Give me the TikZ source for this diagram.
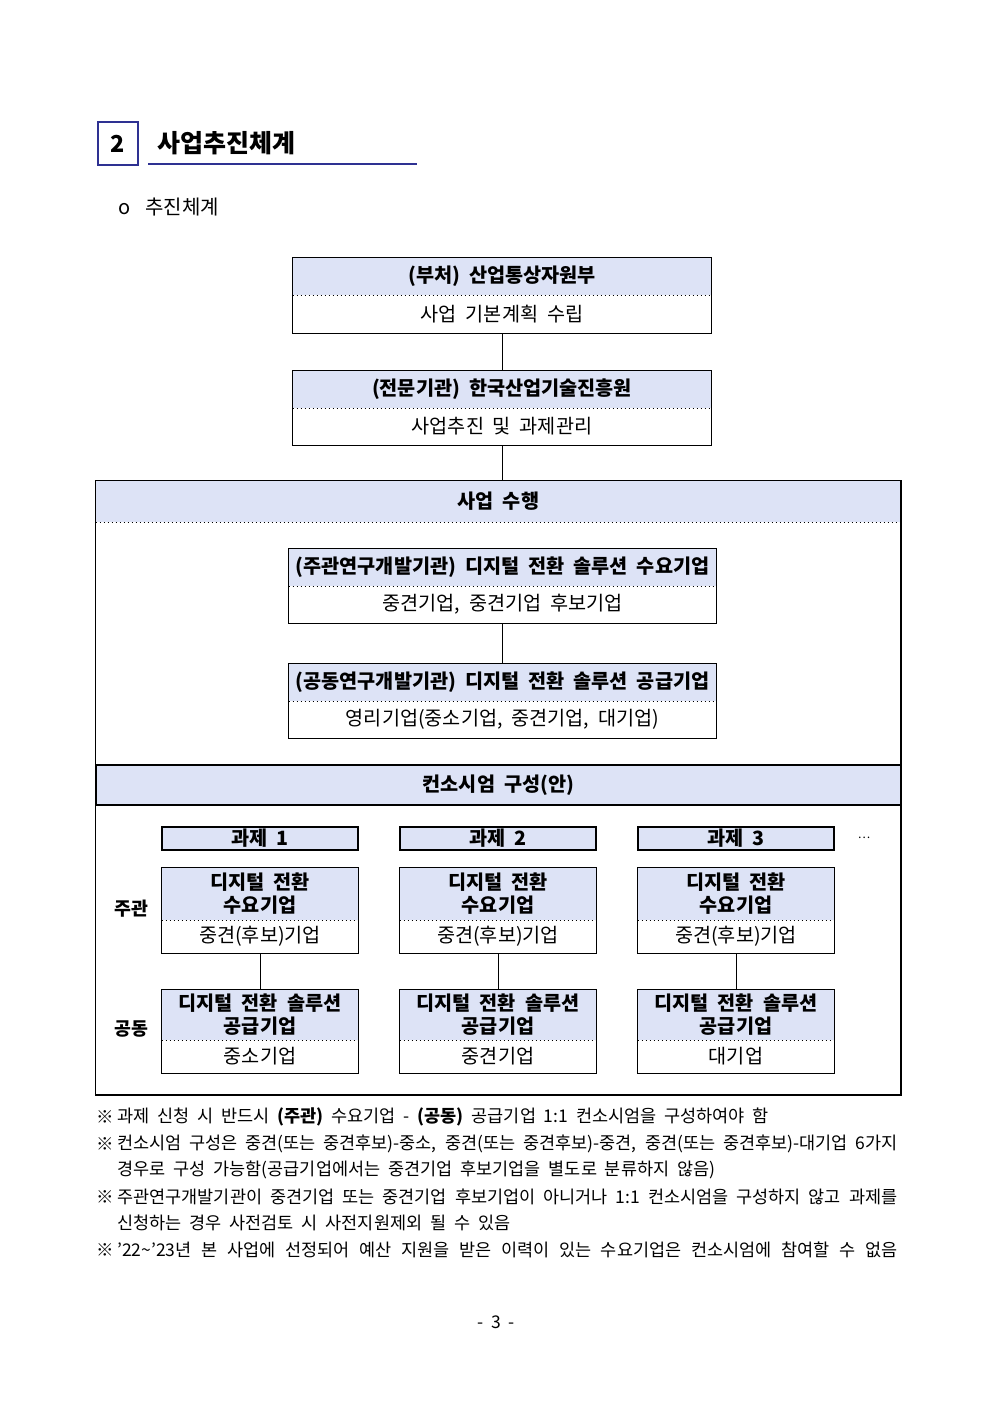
\documentclass[tikz,border=0pt]{standalone}
\usepackage{fontspec}
\setmainfont{Noto Sans CJK KR}[WordSpace=2]
\newfontfamily\tightfamily{Noto Sans CJK KR}[WordSpace=1]
\usetikzlibrary{positioning}
\definecolor{hdrblue}{RGB}{221,227,246}
\definecolor{titlenavy}{RGB}{46,49,146}
\newcommand{\boxfont}{\fontsize{11.8}{13.8}\selectfont}
\newcommand{\notefont}{\fontsize{10.5}{16}\selectfont}

\begin{document}
\begin{tikzpicture}
  [x=0.6pt,y=-0.6pt,every node/.style={inner sep=0pt,font=\boxfont}]
 \tikzset{hdr/.style = {fill=hdrblue,font=\bfseries\boxfont,align=center},
   bdy/.style = {align=center},
   box/.style = {draw,line width=0.8pt},
   sep/.style = {dotted,line width=0.4pt},
   edge/.style = {line width=0.6pt},
   note/.style = {anchor=west,font=\notefont}}
  \useasboundingbox (0,0) rectangle (992,1403);

  % title
  \node[draw=titlenavy,line width=0.9pt,minimum width=24pt,minimum height=25.8pt,
    font=\bfseries\fontsize{14}{16}\selectfont] (num) at (118,143.5) {2};
  \node[anchor=west,font=\bfseries\fontsize{15}{17}\selectfont] (title) at (157,143) {사업추진체계};
  \coordinate (ulstart) at (148,164);
  \coordinate (ulend) at (417,164);
  \draw[titlenavy,line width=0.9pt] (ulstart) -- (ulend);
  \node[anchor=west,font=\fontsize{12}{14}\selectfont] (bul) at (118,207) {o\hspace{0.75em}추진체계};

  % top boxes
  \node[hdr,minimum width=250.8pt,minimum height=22.2pt] (moti) at (502,276.5) {(부처) 산업통상자원부};
  \node[bdy,minimum width=250.8pt,minimum height=22.8pt] (motiB) at (502,314) {사업 기본계획 수립};
  \node[hdr,minimum width=250.8pt,minimum height=22.2pt] (keit) at (502,389.5) {(전문기관) 한국산업기술진흥원};
  \node[bdy,minimum width=250.8pt,minimum height=22.2pt] (keitB) at (502,426.5) {사업추진 및 과제관리};

  % outer frame
  \node[hdr,minimum width=483pt,minimum height=24.6pt] (exec) at (498.5,501.5) {사업 수행};
  \coordinate (framebot) at (901,1095);
  \node[hdr,minimum width=256.2pt,minimum height=22.2pt] (lead) at (502.5,567.5) {(주관연구개발기관) 디지털 전환 솔루션 수요기업};
  \node[bdy,minimum width=256.2pt,minimum height=22.2pt] (leadB) at (502.5,604.5) {중견기업, 중견기업 후보기업};
  \node[hdr,minimum width=256.2pt,minimum height=22.2pt] (joint) at (502.5,682.5) {(공동연구개발기관) 디지털 전환 솔루션 공급기업};
  \node[bdy,minimum width=256.2pt,minimum height=22.2pt] (jointB) at (502.5,719.5) {영리기업(중소기업, 중견기업, 대기업)};
  \node[hdr,draw,line width=0.8pt,minimum width=483pt,minimum height=24pt] (cons) at (498.5,785) {컨소시엄 구성(안)};

  \foreach \top/\bot in {moti/motiB,keit/keitB,lead/leadB,joint/jointB}
  {
    \draw[box] (\top.north west) rectangle (\bot.south east);
    \draw[sep] (\top.south west) -- (\top.south east);
  }
  \draw[box] (exec.north west) rectangle (framebot);
  \draw[sep] (exec.south west) -- (exec.south east);

  % consortium columns
  \node[font=\bfseries\fontsize{11}{13}\selectfont] (lbllead) at (131,909) {주관};
  \node[font=\bfseries\fontsize{11}{13}\selectfont] (lbljoint) at (131,1029) {공동};
  \foreach \n/\x/\kind in {1/260/중소기업,2/498/중견기업,3/736/대기업}
  {
    \node[hdr,draw,line width=0.8pt,minimum width=117.6pt,minimum height=13.8pt] (task\n) at (\x,838.5) {과제 \n};
    \node[hdr,minimum width=117.6pt,minimum height=31.2pt] (dem\n) at (\x,894) {디지털 전환\\수요기업};
    \node[bdy,minimum width=117.6pt,minimum height=19.8pt] (demB\n) at (\x,936.5) {중견(후보)기업};
    \node[hdr,minimum width=117.6pt,minimum height=30pt] (sup\n) at (\x,1015) {디지털 전환 솔루션\\공급기업};
    \node[bdy,minimum width=117.6pt,minimum height=19.8pt] (supB\n) at (\x,1056.5) {\kind};
    \draw[box] (dem\n.north west) rectangle (demB\n.south east);
    \draw[sep] (dem\n.south west) -- (dem\n.south east);
    \draw[box] (sup\n.north west) rectangle (supB\n.south east);
    \draw[sep] (sup\n.south west) -- (sup\n.south east);
    \draw[edge] (demB\n) -- (sup\n);
  }
  \node[font=\fontsize{7}{8}\selectfont] (more) at (864,838) {…};

  \foreach \from/\to in {motiB/keit,leadB/joint}
    \draw[edge] (\from) -- (\to);
  \draw[edge] (keitB.south) -- (keitB.south |- exec.north);

  % notes
  \foreach \y in {1117,1144,1197,1250}
    \node[note] (mark\y) at (96,\y) {※};
  \node[note] (n1) at (117,1117) {과제 신청 시 반드시 \textbf{(주관)} 수요기업 - \textbf{(공동)} 공급기업 1:1 컨소시엄을 구성하여야 함};
  \node[note] (n2) at (117,1144) {\tightfamily\makebox[468pt][s]{컨소시엄 구성은 중견(또는 중견후보)-중소, 중견(또는 중견후보)-중견, 중견(또는 중견후보)-대기업 6가지}};
  \node[note] (n3) at (117,1170) {경우로 구성 가능함(공급기업에서는 중견기업 후보기업을 별도로 분류하지 않음)};
  \node[note] (n4) at (117,1197) {\tightfamily\makebox[468pt][s]{주관연구개발기관이 중견기업 또는 중견기업 후보기업이 아니거나 1:1 컨소시엄을 구성하지 않고 과제를}};
  \node[note] (n5) at (117,1223) {신청하는 경우 사전검토 시 사전지원제외 될 수 있음};
  \node[note] (n6) at (117,1250) {\tightfamily\makebox[468pt][s]{’22\textasciitilde’23년 본 사업에 선정되어 예산 지원을 받은 이력이 있는 수요기업은 컨소시엄에 참여할 수 없음}};

  \node[font=\fontsize{10.5}{12}\selectfont] (page) at (496,1322) {- 3 -};
\end{tikzpicture}
\end{document}
